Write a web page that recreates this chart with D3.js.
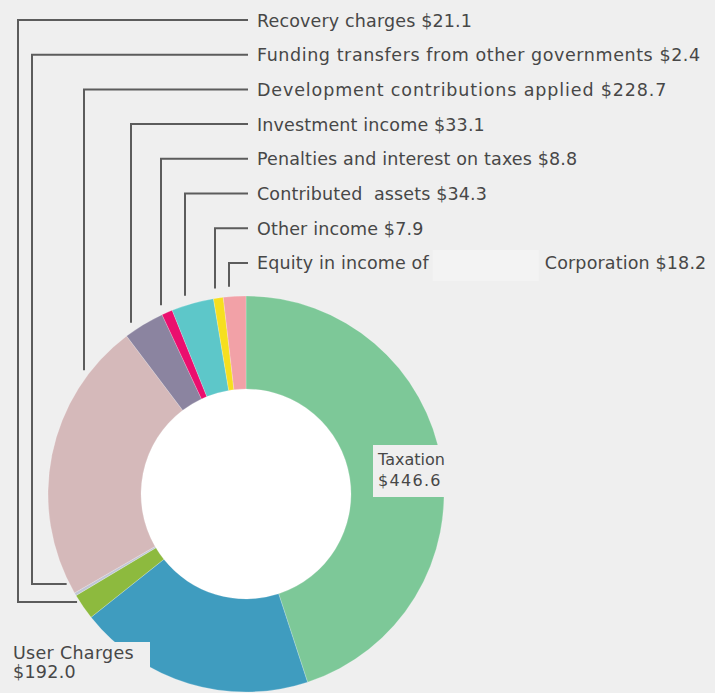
<!DOCTYPE html>
<html>
<head>
<meta charset="utf-8">
<script src="https://cdn.jsdelivr.net/npm/d3@7"></script>
<style>
  html, body { margin: 0; padding: 0; background: #efefef; }
  svg { display: block; }
  text { font-family: "DejaVu Sans", sans-serif; fill: #474747; white-space: pre; }
</style>
</head>
<body>
<svg id="chart" width="715" height="693"></svg>
<script>
// Revenue sources ($ millions), in clockwise order from 12 o'clock
const categories = [
  "Taxation",
  "User Charges",
  "Recovery charges",
  "Funding transfers from other governments",
  "Development contributions applied",
  "Investment income",
  "Penalties and interest on taxes",
  "Contributed  assets",
  "Other income",
  "Equity in income of"
];
const values = [446.6, 192.0, 21.1, 2.4, 228.7, 33.1, 8.8, 34.3, 7.9, 18.2];
const colors = [
  "#7dc898", "#3f9cbf", "#8dba3e", "#c0c6d6", "#d5b9ba",
  "#8b84a0", "#ea0f6e", "#5dc7c9", "#f6df1f", "#f2a1a7"
];
// Text that follows a blanked-out name in a callout
const nameSuffix = { "Equity in income of": "Corporation" };

// Callout layout: which slices get a leader line to the stacked labels
const calloutOrder = [2, 3, 4, 5, 6, 7, 8, 9];
const leaderX = [18, 32, 84, 131, 161, 185, 215, 229];
const elbowY = { 2: 602, 3: 584 };
const letterSpacing = { 3: 0.58, 4: 0.87 };

const svg = d3.select("#chart");
const cx = 246, cy = 494, R = 198, r0 = 105;
const money = d => "$" + d3.format(".1f")(d);

const data = categories.map((c, i) => ({ name: c, value: values[i], color: colors[i], i }));
const pie = d3.pie().sort(null).value(d => d.value);
const arcs = pie(data);
const arc = d3.arc().innerRadius(r0).outerRadius(R);

const g = svg.append("g").attr("transform", `translate(${cx},${cy})`);
g.append("circle").attr("r", r0).attr("fill", "#ffffff");
g.selectAll("path.slice")
  .data(arcs)
  .join("path")
  .attr("class", "slice")
  .attr("d", arc)
  .attr("fill", d => d.data.color)
  .attr("stroke", "rgba(255,255,255,0.35)")
  .attr("stroke-width", 0.6);

// Stacked callouts with elbow leaders
const labelX = 257, lineEndX = 248, rowY0 = 20, rowStep = 34.7;
const leaders = svg.append("g")
  .attr("fill", "none")
  .attr("stroke", "#5c5c5c")
  .attr("stroke-width", 2);
const labels = svg.append("g").attr("font-size", 17.5);

calloutOrder.forEach((idx, k) => {
  const y = rowY0 + k * rowStep;
  const x = leaderX[k];
  let pts;
  if (elbowY[idx] !== undefined) {
    const ey = elbowY[idx];
    const edgeX = cx - Math.sqrt(R * R - (ey - cy) * (ey - cy));
    pts = [[lineEndX, y], [x, y], [x, ey], [edgeX - 3, ey]];
  } else {
    const edgeY = cy - Math.sqrt(R * R - (x - cx) * (x - cx));
    pts = [[lineEndX, y], [x, y], [x, edgeY - 10]];
  }
  leaders.append("path").attr("d", d3.line()(pts));

  const d = data[idx];
  const t = labels.append("text").attr("x", labelX).attr("y", y + 6.5)
    .attr("letter-spacing", letterSpacing[idx] || 0.15);
  if (nameSuffix[d.name]) {
    t.append("tspan").text(d.name);
    const w = t.node().getComputedTextLength();
    labels.insert("rect", "text")
      .attr("x", labelX + w + 4).attr("y", y - 13)
      .attr("width", 106).attr("height", 31)
      .attr("fill", "#f3f3f3");
    t.append("tspan").attr("x", labelX + w + 116).text(nameSuffix[d.name] + " " + money(d.value));
  } else {
    t.text(d.name + " " + money(d.value));
  }
});

// Direct labels for the two largest slices
const tax = data[0];
svg.append("rect").attr("x", 373).attr("y", 445).attr("width", 72).attr("height", 52).attr("fill", "#efefef");
const tt = svg.append("text").attr("font-size", 16);
tt.append("tspan").attr("x", 378).attr("y", 465).text(tax.name);
tt.append("tspan").attr("x", 378).attr("y", 486).attr("letter-spacing", 1.3).text(money(tax.value));

const uc = data[1];
svg.append("rect").attr("x", 0).attr("y", 642).attr("width", 150).attr("height", 51).attr("fill", "#efefef");
const ut = svg.append("text").attr("font-size", 17.5).attr("letter-spacing", 0.3);
ut.append("tspan").attr("x", 13).attr("y", 659).text(uc.name);
ut.append("tspan").attr("x", 13).attr("y", 678).text(money(uc.value));
</script>
</body>
</html>
